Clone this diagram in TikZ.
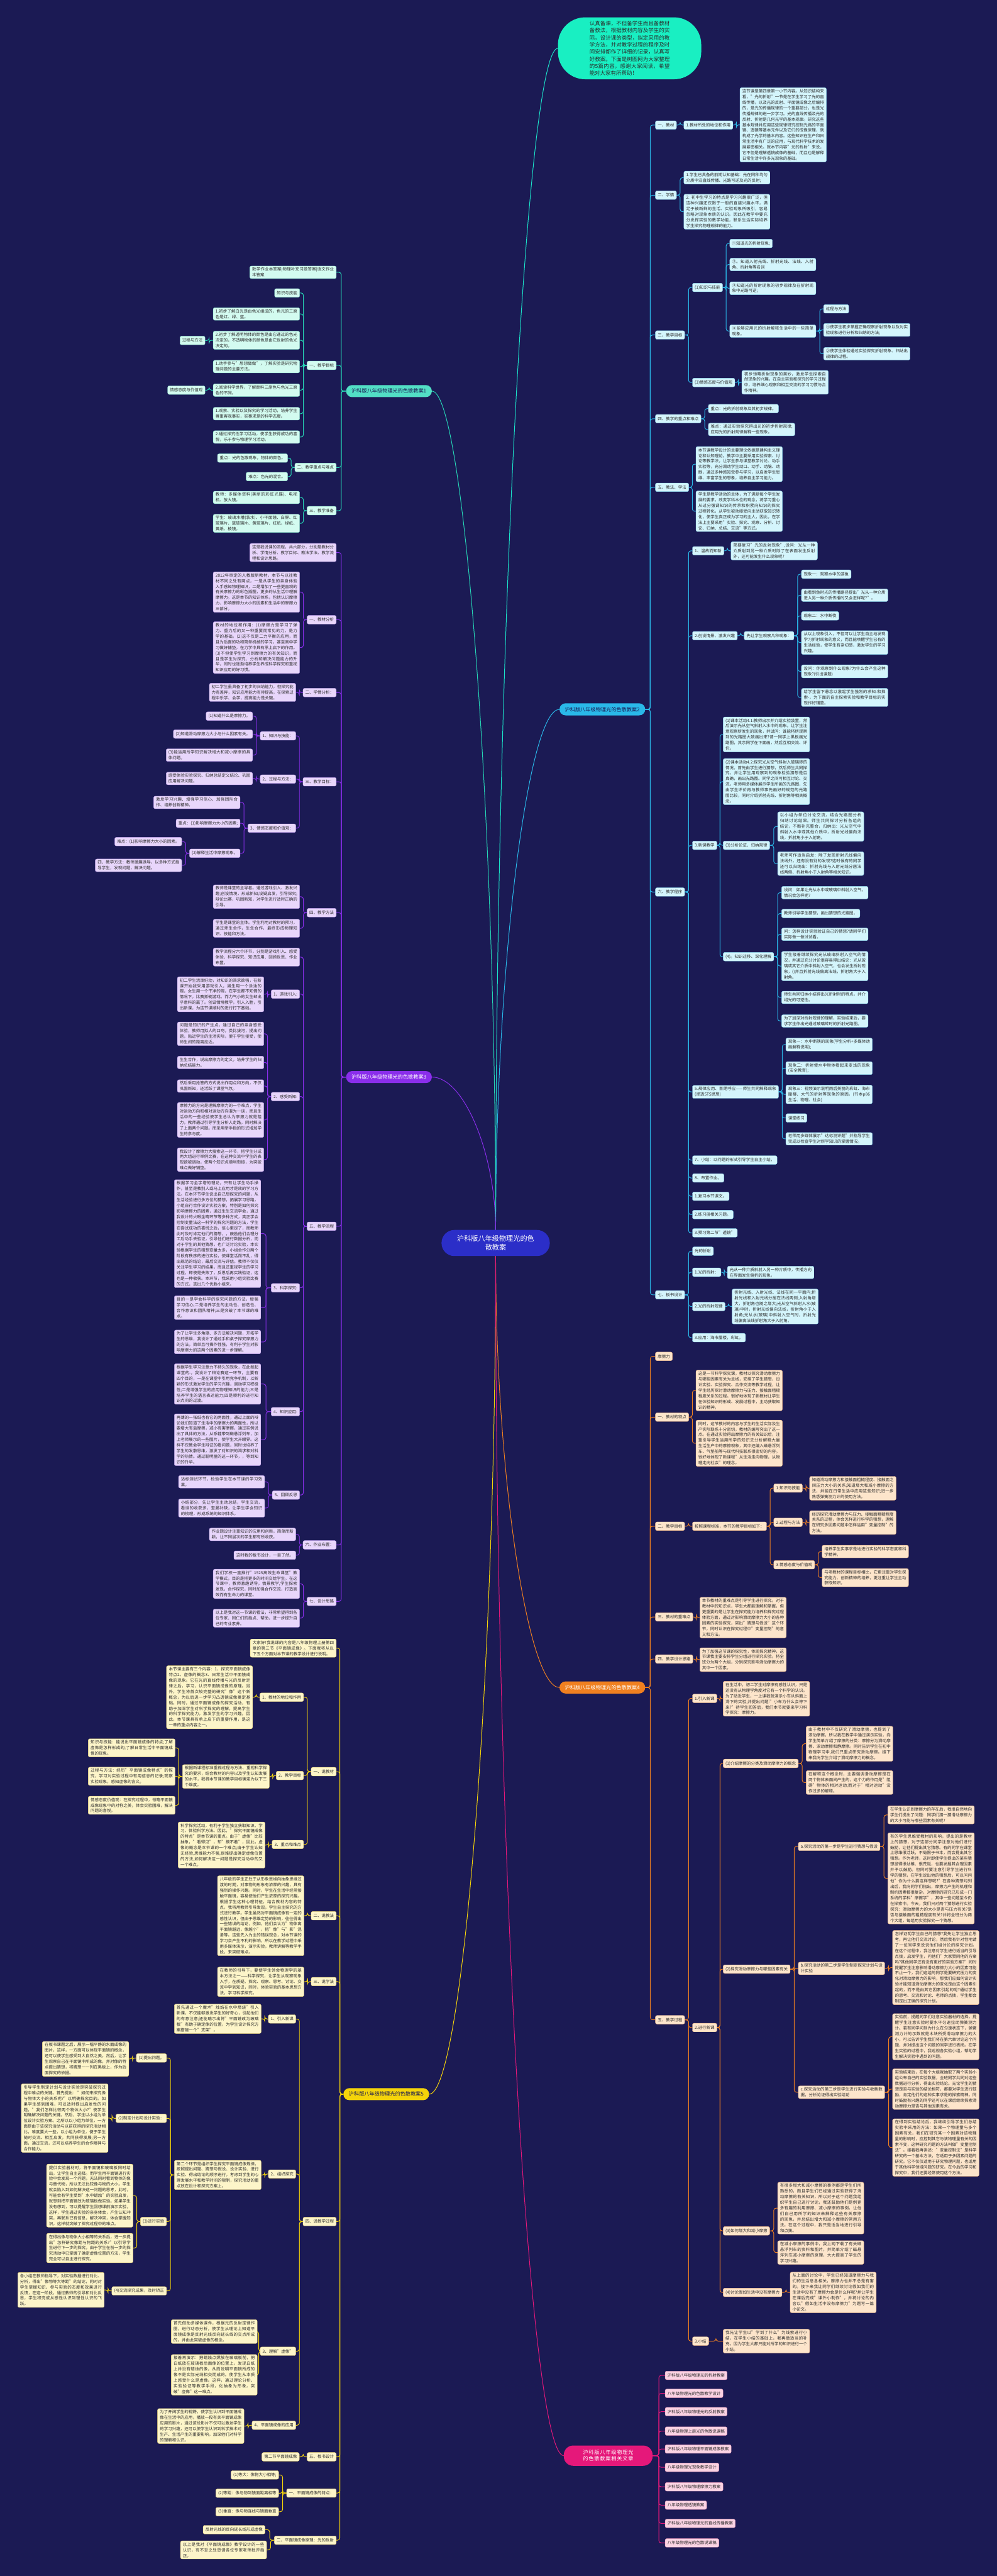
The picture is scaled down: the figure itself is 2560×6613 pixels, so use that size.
\documentclass[tikz,border=0pt]{standalone}
\usepackage{fontspec}
\setmainfont{Noto Sans CJK SC}
\XeTeXlinebreaklocale "zh"
\XeTeXlinebreakskip=0pt plus 1pt
\usetikzlibrary{calc}
\pgfdeclarelayer{bglayer}\pgfdeclarelayer{edgelayer}
\pgfsetlayers{bglayer,edgelayer,main}
\definecolor{bgc}{HTML}{1B1A54}
\definecolor{txc}{HTML}{2B2B2B}
\definecolor{cyF}{HTML}{D4F5FC}\definecolor{cyD}{HTML}{8FD8EE}\definecolor{cyL}{HTML}{2AB8E8}
\definecolor{grF}{HTML}{D3FBF0}\definecolor{grD}{HTML}{8EE8CF}\definecolor{grL}{HTML}{27D6B6}
\definecolor{puF}{HTML}{E8D6FB}\definecolor{puD}{HTML}{BFA0EC}\definecolor{puL}{HTML}{8A2EEB}
\definecolor{orF}{HTML}{FDE5CB}\definecolor{orD}{HTML}{F1B98A}\definecolor{orL}{HTML}{F08020}
\definecolor{yeF}{HTML}{FDF5C9}\definecolor{yeD}{HTML}{EED77A}\definecolor{yeL}{HTML}{F5D40A}
\definecolor{piF}{HTML}{FBD3E3}\definecolor{piD}{HTML}{EE9DBE}\definecolor{piL}{HTML}{E5187A}
\definecolor{rootF}{HTML}{2B2EC8}\definecolor{topF}{HTML}{19EFC2}
\newcommand\fsz{\fontsize{10.5pt}{14.4pt}\selectfont}
\newcommand\boxR[6]{\node[#2,anchor=west,text width=#4pt,align=justify] (#1) at (#3pt,-#5pt) {#6};}
\newcommand\boxL[6]{\node[#2,anchor=east,text width=#4pt,align=justify] (#1) at (#3pt,-#5pt) {#6};}
\newcommand\labR[5]{\node[#2,anchor=west] (#1) at (#3pt,-#4pt) {#5};}
\newcommand\labL[5]{\node[#2,anchor=east] (#1) at (#3pt,-#4pt) {#5};}
\newcommand\eR[2]{\draw[ln] (#1.east) -- ($(#1.east)!0.5!(#1.east -| #2.west)$) |- (#2.west);}
\newcommand\eL[2]{\draw[ln] (#1.west) -- ($(#1.west)!0.5!(#1.west -| #2.east)$) |- (#2.east);}
\tikzset{
 base/.style={rounded corners=4pt, inner xsep=6pt, inner ysep=4pt, font=\fsz, text=txc, minimum height=22pt, line width=0.7pt},
 cl/.style={base, draw=cyD, fill=cyF},
 gl/.style={base, draw=grD, fill=grF},
 pl/.style={base, draw=puD, fill=puF},
 ol/.style={base, draw=orD, fill=orF},
 yl/.style={base, draw=yeD, fill=yeF},
 kl/.style={base, draw=piD, fill=piF},
 bnode/.style={rounded corners=15.5pt, minimum height=31pt, inner xsep=14pt, font=\fontsize{13.2pt}{16pt}\selectfont},
 cv/.style={line width=1.6pt},
}
\begin{document}
\begin{tikzpicture}[x=1pt,y=1pt]
\begin{pgfonlayer}{bglayer}
\fill[bgc] (0,0) rectangle (2560,-6613);
\end{pgfonlayer}
\useasboundingbox (0,0) rectangle (2560,-6613);

% root and top
\node[fill=rootF, text=white, rounded corners=33pt, minimum width=278pt, minimum height=67pt, align=center, font=\fontsize{18pt}{22pt}\selectfont] (root) at (1273,-3191) {沪科版八年级物理光的色\\散教案};
\node[fill=topF, text=txc, rounded corners=70pt, minimum width=368pt, minimum height=159pt, text width=206pt, align=justify, font=\fontsize{13.7pt}{18.3pt}\selectfont] (top) at (1617,-124) {认真备课，不但备学生而且备教材备教法，根据教材内容及学生的实际，设计课的类型，拟定采用的教学方法，并对教学过程的程序及时间安排都作了详细的记录，认真写好教案。下面是树图网为大家整理的5篇内容，感谢大家阅读，希望能对大家有所帮助！};

\node[bnode, fill=grL!80!white, text=bgc] (b1) at (999,-1004) {沪科版八年级物理光的色散教案1};
\node[bnode, fill=cyL, text=bgc] (b2) at (1547,-1821) {沪科版八年级物理光的色散教案2};
\node[bnode, fill=puL, text=white] (b3) at (999,-2765) {沪科版八年级物理光的色散教案3};
\node[bnode, fill=orL, text=white] (b4) at (1547,-4332) {沪科版八年级物理光的色散教案4};
\node[bnode, fill=yeL, text=bgc] (b5) at (992,-5376) {沪科版八年级物理光的色散教案5};
\node[bnode, fill=piL, text=white, rounded corners=24pt, minimum height=52pt, text width=200pt, align=center] (b6) at (1562,-6304) {沪科版八年级物理光的色散教案相关文章};

% ===== B6 pink =====
\labR{k1}{kl}{1708}{6098}{沪科版八年级物理光的折射教案}
\labR{k2}{kl}{1708}{6144}{八年级物理光的色散教学设计}
\labR{k3}{kl}{1708}{6191}{沪科版八年级物理光的反射教案}
\labR{k4}{kl}{1708}{6241}{八年级物理上册光的色散说课稿}
\labR{k5}{kl}{1708}{6287}{沪科版八年级物理平面镜成像教案}
\labR{k6}{kl}{1708}{6334}{八年级物理光现象教学设计}
\labR{k7}{kl}{1708}{6384}{沪科版八年级物理摩擦力教案}
\labR{k8}{kl}{1708}{6431}{八年级物理透镜教案}
\labR{k9}{kl}{1708}{6478}{沪科版八年级物理光的直线传播教案}
\labR{k10}{kl}{1708}{6528}{八年级物理光的色散说课稿}

% ===== B2 cyan =====
\labR{c1}{cl}{1683}{321}{一、教材}
\labR{c11}{cl}{1756}{321}{1.教材所处的地位和作用}
\boxR{c111}{cl}{1900}{210}{320.5}{这节课是第四章第一小节内容。从知识结构来看，"光的折射"一节是在学生学习了光的直线传播，以及光的反射、平面镜成像之后编排的，是光的传播规律的一个重要部分，也是光传播规律的进一步学习。光的直线传播及光的反射、折射是几何光学的基本规律。研究这些基本规律并应用这些规律研究控制光路的平面镜、透镜等基本元件以及它们的成像原理，就构成了光学的基本内容。这些知识在生产和日常生活中有广泛的应用，与现代科学技术的发展紧密相关。就本节内容"光的折射"来说，它不但是理解透镜成像的基础，而且也是解释日常生活中许多光现象的基础。}
\labR{c2}{cl}{1683}{501}{二、学情}
\boxR{c21}{cl}{1756}{209}{456}{1.学生已具备的前期认知基础：光在同种均匀介质中沿直线传播、光路可逆及光的反射;}
\boxR{c22}{cl}{1756}{209}{543.5}{2. 初中生学习的特点是学习兴趣很广泛，但这种兴趣还仅限于一般的直接兴趣水平，满足于被新鲜的生活、实验现象所吸引，容易忽略对现象本质的认识。因此在教学中要充分发挥实验的教学功能，联系生活实际培养学生探究物理规律的能力。}
\labR{c3}{cl}{1683}{860}{三、教学目标}
\labR{c31}{cl}{1778}{738}{(1)知识与技能}
\labR{c311}{cl}{1874}{625}{①知道光的折射现象;}
\boxR{c312}{cl}{1874}{209}{679}{②。知道入射光线、折射光线、法线、入射角、折射角等名词}
\boxR{c313}{cl}{1874}{209}{740}{③知道光的折射现象的初步规律及在折射现象中光路可逆;}
\boxR{c314}{cl}{1874}{209}{850}{④能够应用光的折射解释生活中的一些简单现象。}
\labR{c3141}{cl}{2115}{793}{过程与方法}
\boxR{c3142}{cl}{2115}{210}{847}{①使学生初步掌握正确观察折射现象以及对实验现象进行分析和归纳的方法;}
\boxR{c3143}{cl}{2115}{210}{908}{②使学生体验通过实验探究折射现象、归纳出规律的过程。}
\labR{c32}{cl}{1778}{982}{(3)情感态度与价值观}
\boxR{c321}{cl}{1905}{210}{981.5}{初步领略折射现象的美妙，激发学生探索自然现象的兴趣。在自主实验和探究的学习过程中，培养细心观察和相互交流的学习习惯与合作精神。}
\labR{c4}{cl}{1683}{1075}{四、教学的重点和难点}
\labR{c41}{cl}{1819}{1049}{重点：光的折射现象及其初步规律。}
\boxR{c42}{cl}{1819}{210}{1102.5}{难点：通过实验探究得出光的初步折射规律;应用光的折射规律解释一些现象。}
\labR{c5}{cl}{1683}{1251}{五、教法、学法}
\boxR{c51}{cl}{1787}{210}{1191.5}{本节课教学设计的主要理论依据是建构主义理论和认知理论。教学中主要采用实验探索、讨论等教学法，让学生参与课堂教学讨论、动手实验等，充分调动学生动口、动手、动脑、动眼，通过多种感知觉参与学习，以启发学生思维、丰富学生的想象，培养自主学习能力。}
\boxR{c52}{cl}{1787}{210}{1312.5}{学生是教学活动的主体，为了满足每个学生发展的要求，改变学科本位的观念，将学习重心从过分强调知识的传承和积累向知识的探究过程转化，从学生被动接受向主动获取知识转化，使学生真正成为学习的主人，因此，在学法上主要采用"实验、探究、观察、分析、讨论、归纳、总结、交流"等方式。}
\labR{c6}{cl}{1683}{2290}{六、教学程序}
\labR{c61}{cl}{1778}{1414}{1、温故而知新}
\boxR{c611}{cl}{1877}{210}{1414}{简要复习"光的反射现象",设问：光从一种介质射到另一种介质时除了在表面发生反射外，还可能发生什么现象呢?}
\labR{c62}{cl}{1778}{1632}{2.创设情景、激发兴趣}
\labR{c621}{cl}{1911}{1632}{先让学生观察几种现象：}
\labR{c6211}{cl}{2058}{1474}{现象一：观察水中的游鱼}
\boxR{c6212}{cl}{2058}{210}{1528}{由看到鱼时光的传播路径提出"光从一种介质进入另一种介质传播时又会怎样呢?"。}
\labR{c6213}{cl}{2058}{1581}{现象二：水中断筷}
\boxR{c6214}{cl}{2058}{210}{1649.5}{从以上现象引入，不但可以让学生自主地发现学习折射现象的意义，而且能唤醒学生已有的生活经验，使学生有亲切感，激发学生的学习兴趣。}
\boxR{c6215}{cl}{2058}{210}{1723.5}{设问：你观察到什么现象?为什么会产生这种现象?(引出课题)}
\boxR{c6216}{cl}{2058}{210}{1790.5}{给学生留下悬念以激起学生强烈的求知-和探索-，为下面的自主探索实验和教学目标的实现作好铺垫。}
\labR{c63}{cl}{1778}{2170}{3.新课教学}
\boxR{c631}{cl}{1857}{210}{1885.5}{(1)课本活动4.1:教师出示并介绍实验装置，然后演示光从空气斜射入水中的现象。让学生注意观察所发生的现象，并试问：谁能将所观察到的光路图大致画出来?请一同学上黑板画光路图，其余同学在下面画，然后互相交流、评价。}
\boxR{c632}{cl}{1857}{210}{2006.5}{(2)课本活动4.2:探究光从空气斜射入玻璃砖的情况。首先由学生进行猜想，然后师生共同探究，并让学生用观察到的现象检验猜想是否真确，画出光路图。同学之间可相互讨论、交流。老师用多媒体展示学生所画的光路图，先由学生评价再与教师事先画好的规范的光路图比较，同时介绍折射光线、折射角等相关概念。}
\labR{c633}{cl}{1857}{2170}{(3)分析论证、归纳规律}
\boxR{c6331}{cl}{1997}{209}{2122}{以小组为单位讨论交流，结合光路图分析归纳讨论结果。师生共同探讨分析各组的结论，不断补充整合，归纳出：光从空气中斜射入水中或其他介质中，折射光线偏向法线，折射角小于入射角。}
\boxR{c6332}{cl}{1997}{209}{2217}{老师可作适当启发：除了发现折射光线偏向法线外，还有没有别的发现?这时候有的同学还可以归纳出：折射光线与入射光线分居法线两侧、折射角小于入射角等相关知识。}
\labR{c634}{cl}{1857}{2456}{(4)。知识迁移、深化理解}
\boxR{c6341}{cl}{2007}{210}{2291.5}{设问：如果让光从水中或玻璃中斜射入空气，情况会怎样呢?}
\labR{c6342}{cl}{2007}{2345}{教师引导学生猜想，画出猜想的光路图。}
\boxR{c6343}{cl}{2007}{210}{2398.5}{问：怎样设计实验验证自己的猜想?请同学们实际做一做试试看。}
\boxR{c6344}{cl}{2007}{210}{2480}{学生接着继续探究光从玻璃斜射入空气的情况，并通过充分讨论很容易得出结论：光从玻璃或其它介质中斜射入空气，也会发生折射现象，()并且折射光线偏离法线，折射角大于入射角。}
\boxR{c6345}{cl}{2007}{210}{2560.5}{师生共同归纳小结得出光折射时的特点。并介绍光的可逆性。}
\boxR{c6346}{cl}{2007}{210}{2621}{为了加深对折射规律的理解，实验结束后，要求学生作出光通过玻璃砖时的折射光路图。}
\boxR{c65}{cl}{1778}{209}{2803}{5.规律应用、首尾呼应——师生共同解释现象(渗透STS思想)}
\boxR{c651}{cl}{2018}{210}{2681.5}{现象一：水中断筷的现象(学生分析+多媒体动画解释说明);}
\boxR{c652}{cl}{2018}{210}{2742}{现象二：折射使水中物体看起来变浅的现象(安全教育);}
\boxR{c653}{cl}{2018}{210}{2809.5}{现象三：视频演示说明雨后美丽的彩虹、海市蜃楼、大气的折射等现象的原因。(书本p86生活、物理、社会)}
\labR{c654}{cl}{2018}{2870}{课堂练习}
\boxR{c655}{cl}{2018}{210}{2923.5}{老师用多媒体展示"达标测评题"并指导学生完成以检查学生对所学知识的掌握情况。}
\labR{c67}{cl}{1778}{2978}{7、小结：以问题的形式引导学生自主小结，}
\labR{c68}{cl}{1778}{3024}{8、布置作业。}
\labR{c69}{cl}{1778}{3071}{1.复习本节课文。}
\labR{c6a}{cl}{1778}{3118}{2.练习册相关习题。}
\labR{c6b}{cl}{1778}{3165}{3.预习第二节"透镜"}
\labR{c7}{cl}{1683}{3324}{七、板书设计}
\labR{c71}{cl}{1778}{3212}{光的折射}
\labR{c72}{cl}{1778}{3266}{1.光的折射：}
\boxR{c721}{cl}{1868}{210}{3266.5}{光从一种介质斜射入另一种介质中，传播方向在界面发生偏折的现象。}
\labR{c73}{cl}{1778}{3354}{2.光的折射规律}
\boxR{c731}{cl}{1880}{209}{3354}{折射光线、入射光线、法线在同一平面内;折射光线和入射光线分居在法线两侧;入射角增大，折射角也随之增大;光从空气斜射入水(玻璃)中时，折射光线偏向法线，折射角小于入射角;光从水(玻璃)中斜射入空气时，折射光线偏离法线折射角大于入射角。}
\labR{c74}{cl}{1778}{3434}{3.应用：海市蜃楼，彩虹。}

% ===== B1 green =====
\boxL{g0}{gl}{864}{210}{699}{数学作业本答案|物理补充习题答案|语文作业本答案}
\labL{g1}{gl}{864}{938}{一、教学目标}
\labL{g11}{gl}{770}{752}{知识与技能}
\boxL{g12}{gl}{770}{210}{806}{1.初步了解白光是由色光组成的，色光的三原色是红、绿、蓝。}
\boxL{g13}{gl}{770}{210}{873.5}{2.初步了解透明物体的颜色是由它通过的色光决定的，不透明物体的颜色是由它反射的色光决定的。}
\labL{g131}{gl}{527}{874}{过程与方法}
\boxL{g14}{gl}{770}{210}{941}{1.动手参与"想想做做"，了解实验是研究物理问题的主要方法。}
\boxL{g15}{gl}{770}{210}{1001.5}{2.阅读科学世界，了解颜料三原色与色光三原色的不同。}
\labL{g151}{gl}{527}{1001.5}{情感态度与价值观}
\boxL{g16}{gl}{770}{210}{1062}{1.观察、实验以及探究的学习活动，培养学生尊重客观事实，实事求是的科学态度。}
\boxL{g17}{gl}{770}{210}{1122}{2.通过探究性学习活动，使学生获得成功的喜悦，乐于参与物理学习活动。}
\labL{g2}{gl}{864}{1200}{二、教学重点与难点}
\labL{g21}{gl}{739}{1176}{重点：光的色散现象，物体的颜色。}
\labL{g22}{gl}{739}{1223.5}{难点：色光的混合。}
\labL{g3}{gl}{864}{1311}{三、教学准备}
\boxL{g31}{gl}{770}{210}{1277}{教师：多媒体资料(美丽的彩虹光碟)、电视机、放大镜。}
\boxL{g32}{gl}{770}{210}{1343.5}{学生：玻璃水槽(装水)、小平面镜、白屏、红玻璃片、蓝玻璃片、黄玻璃片、红纸、绿纸、黄纸、棱镜。}

% ===== B3 purple =====
\boxL{p0}{pl}{864}{210}{1418.5}{这是我说课的流程，共六部分，分别是教材分析、学情分析、教学目标、教法学法、教学流程和设计思路。}
\labL{p1}{pl}{864}{1591}{一、教材分析}
\boxL{p11}{pl}{770}{210}{1520}{2012年审定的人教版新教材，本节与以往教材不同之处有两点，一是从学生的亲身体验入手感知物理知识，二是增加了一些更直观的有关摩擦力的彩色插图，更多的从生活中理解摩擦力。这是本节的知识体系，包括认识摩擦力、影响摩擦力大小的因素和生活中的摩擦力三部分。}
\boxL{p12}{pl}{770}{210}{1662.5}{教材的地位和作用：(1)摩擦力是学习了弹力、重力后的又一种重要而常见的力，是力学的基础。(2)这不仅是二力平衡的应用，而且为后面的功和简单机械的学习，甚至高中学习做好铺垫，在力学中具有承上启下的作用。(3)不但使学生学习到摩擦力的有关知识，而且是学生对探究、分析和解决问题能力的升华，同时也逐渐培养学生养成科学探究和重视知识应用的好习惯。}
\labL{p2}{pl}{864}{1778}{二、学情分析：}
\boxL{p21}{pl}{760}{210}{1777.5}{初二学生虽具备了初步的归纳能力，但探究能力有差异，知识应用能力有待提高，在探索过程中乐学、会学，提高能力是关键。}
\labL{p3}{pl}{864}{2007}{三、教学目标：}
\labL{p31}{pl}{760}{1889}{1、知识与技能：}
\labL{p311}{pl}{649}{1838.5}{(1)知道什么是摩擦力。}
\labL{p312}{pl}{649}{1884.5}{(2)知道滑动摩擦力大小与什么因素有关。}
\boxL{p313}{pl}{649}{210}{1938.5}{(3)能运用所学知识解决增大和减小摩擦的具体问题。}
\labL{p32}{pl}{760}{2000}{2、过程与方法：}
\boxL{p321}{pl}{649}{210}{1998.5}{感受体验实验探究、归纳总结定义结论、巩固应用解决问题。}
\labL{p33}{pl}{760}{2126}{3、情感态度和价值观：}
\boxL{p331}{pl}{617}{210}{2060}{激发学习兴趣、增强学习信心、加强团队合作、培养创新精神。}
\labL{p332}{pl}{617}{2113.5}{重点：(1)影响摩擦力大小的因素;}
\labL{p333}{pl}{617}{2190.5}{(2)解释生活中摩擦现象。}
\labL{p3331}{pl}{467}{2160.5}{难点：(1)影响摩擦力大小的因素。}
\boxL{p3332}{pl}{467}{210}{2221.5}{四、教学方法：教师激趣诱导，以多种方式指导学生，发现问题，解决问题。}
\labL{p4}{pl}{864}{2343}{四、教学方法}
\boxL{p41}{pl}{770}{210}{2302}{教师是课堂的主导者。通过游戏引入、激发兴趣;创设情境，形成新知;设疑启发，引导探究;辩论比赛，巩固新知，对学生进行适时正确的引导。}
\boxL{p42}{pl}{770}{210}{2383}{学生是课堂的主体。学生利用对教材的预习，通过师生合作，生生合作，最终形成物理知识、技能和方法。}
\labL{p5}{pl}{864}{3148}{五、教学流程}
\boxL{p50}{pl}{770}{210}{2457}{教学流程分六个环节，分别是游戏引入、感受体验、科学探究、知识应用、回顾反思、作业布置。}
\labL{p51}{pl}{770}{2552}{1、游戏引入:}
\boxL{p511}{pl}{678}{210}{2552.5}{初二学生活泼好动，对知识的渴求欲强，在新课开始我采用游戏引入，男生用一个涂油的碗，女生用一个干净的碗，在学生都不知情的情况下，比赛抓碗游戏。而力气小的女生却出乎意料的赢了。创设情境教学，引人入胜，引出新课，为这节课顺利的进行打下基础。}
\labL{p52}{pl}{770}{2815}{2、感受新知:}
\boxL{p521}{pl}{678}{210}{2654}{问题是知识的产生点，通过自己的亲身感受体验，教师用拟人的口吻，类比拔河，提出问题，贴近学生的生活实际，便于学生接受，使师生间的距离拉近。}
\boxL{p522}{pl}{678}{210}{2727.5}{生生合作，说出摩擦力的定义，培养学生的归纳总结能力。}
\boxL{p523}{pl}{678}{210}{2788}{然后采用抢答的方式说出作用点和方向，不仅巩固新知，还活跃了课堂气氛。}
\boxL{p524}{pl}{678}{210}{2875}{摩擦力的方向是理解摩擦力的一个难点，学生对运动方向和相对运动方向混为一谈，而且生活中的一些经验使学生总认为摩擦力就是阻力，教师通过引导学生分析人走路，同时解决了上面两个问题。而采用举手指的形式增加学生的参与度。}
\boxL{p525}{pl}{678}{210}{2977}{我设计了摩擦力大搜索这一环节，把学生分成两大组进行举例比赛，在这种交流中学生的表现欲被调动，使两个知识点顺利衔接，为突破难点做好铺垫。}
\labL{p53}{pl}{770}{3306}{3、科学探究:}
\boxL{p531}{pl}{670}{210}{3167}{根据学习金字塔的理论，只有让学生动手操作，甚至是教别人或马上应用才是效的学习方法。在本环节学生说出自己想探究的问题，从生活经验进行多方位的猜想，拓展学习思路，小组自行合作设计实验方案，特别是如何探究影响摩擦力的因素，通过生生交流学会，通过我设计的火眼金睛环节等多种方式，真正学会控制变量法这一科学的探究问题的方法，学生在尝试成功的喜悦之后，信心更足了，而教师此时及时肯定他们的猜想，，鼓励他们合理分工后动手去验证，引导他们进行数据分析，而对于学生的其他猜想，也广泛讨论实验，本实验根据学生的猜想变量太多，小组合作分两个阶段有秩序的进行实验，使课堂活而不乱，得出规范的结论，最后交流与评估。教师不仅仅关注学生学习的结果，而且还重视学生的学习过程，即使是失败了，反思后再实践验证，这也是一种收获。本环节，我采用小组实验比赛的方式，选出几个优胜小组来。}
\boxL{p532}{pl}{670}{210}{3357}{目的一是学会科学的探究问题的方法，增强学习信心;二是培养学生的主动性、创造性、合作意识和团队精神;三是突破了本节课的难点。}
\boxL{p533}{pl}{670}{210}{3445}{为了让学生多角度、多方法解决问题，开拓学生的思维，我设计了通过手和桌子探究摩擦力的方法，简单且可操作性强，有利于学生对影响摩擦力的这两个因素的进一步理解。}
\labL{p54}{pl}{770}{3624}{4、知识应用:}
\boxL{p541}{pl}{670}{210}{3553}{根据学生学习注意力不持久的现象，在此掀起课堂的-，我设计了辩论赛这一环节，主要有四个目的，一是在课堂中引用竞争机制，以新颖的形式激发学生的学习兴趣，调动学习积极性;二是增强学生的应用物理知识的能力;三是培养学生的语言表达能力;四是顺利的进行知识点间的过渡。}
\boxL{p542}{pl}{670}{210}{3696}{再薄的一张纸也有它的两面性，通过上面的辩论我们知道了生活中的摩擦力的两面性，所以要增大有益摩擦，减小有害摩擦，通过实例说出了具体的方法，从系鞋带到磁悬浮列车，加上老师展示的一些图片，使学生大开眼界。这样不仅教会学生辩证的看问题，同时也培养了学生的发散思维，激发了对知识的渴求和对科学的热情。通过聪明屋的这一环节，，等到知识的升华。}
\labL{p55}{pl}{770}{3838}{5、回顾反思}
\boxL{p551}{pl}{680}{209}{3804}{达标测试环节，检验学生在本节课的学习效果。}
\boxL{p552}{pl}{680}{209}{3871.5}{小结部分，先让学生主动总结，学生交流，看谁的收获多，查漏补缺，让学生学会知识的梳理，形成系统的知识体系。}
\labL{p6}{pl}{864}{3966}{六、作业布置：}
\boxL{p61}{pl}{760}{210}{3939}{作业题设计注重知识的应用和创新，简单而新颖，让不同层次的学生都有所收获。}
\labL{p62}{pl}{760}{3992.5}{这时我的板书设计，一目了然。}
\labL{p7}{pl}{864}{4111}{七、设计思路}
\boxL{p71}{pl}{770}{210}{4066}{我们学校一直推行"1525高效生命课堂"教学模式，目的是把更多的时间交给学生。在这节课中，教师激趣诱导，情景教学,学生探索发现，合作探究，同时加强合作交流，打造高效而有生命力的课堂。}
\boxL{p72}{pl}{770}{210}{4154}{以上是我对这一节课的看法，非常希望得到各位专家、同仁们的指点、帮助，进一步提升自己的专业素养。}

% ===== B4 orange =====
\labR{o1}{ol}{1683}{3482}{摩擦力}
\labR{o2}{ol}{1683}{3638}{一、教材的特点}
\boxR{o21}{ol}{1787}{210}{3569.5}{这是一节科学探究课，教材以探究滑动摩擦力与哪些因素有关为主线，安排了学生猜想、设计实验、实验探究、合作交流等教学过程，让学生经历探讨滑动摩擦力与压力、接触面粗糙程度关系的过程。很好地体现了新教材让学生在体验知识的形成、发展过程中，主动获取知识的精神。}
\boxR{o22}{ol}{1787}{210}{3705}{同时，这节教材的内容与学生的生活实际及生产实际联系十分密切，教材的编写突出了这一点。在通过实验得出摩擦力的有关知识后，注重引导学生运用所学的知识去分析解释大量生活生产中的摩擦现象，其中还编入磁悬浮列车、气垫船等与现代科技联系很密切的内容。很好地体现了新课程"从生活走向物理，从物理走向社会"的理念。}
\labR{o3}{ol}{1683}{3918}{二、教学目标}
\labR{o31}{ol}{1778}{3918}{按照课程标准，本节的教学目标如下：}
\labR{o311}{ol}{1987}{3820}{1.知识与技能}
\boxR{o3111}{ol}{2079}{210}{3820.5}{知道滑动摩擦力和接触面粗糙程度、接触面之间压力大小的关系;知道增大和减小摩擦的方法，并能在日常生活中应用这些知识;进一步熟悉弹簧测力计的使用方法。}
\labR{o312}{ol}{1987}{3908}{2.过程与方法}
\boxR{o3121}{ol}{2079}{210}{3908.5}{经历探究滑动摩擦力与压力、接触面粗糙程度关系的过程，体会怎样进行科学的猜想，理解在研究多因素问题中怎样运用"变量控制"的方法。}
\labR{o313}{ol}{1987}{4017}{3.情感态度与价值观}
\boxR{o3131}{ol}{2111}{210}{3983}{培养学生实事求是地进行实验的科学态度和科学精神。}
\boxR{o3132}{ol}{2111}{210}{4050}{与老教材的课程目标相比，它更注重对学生探究能力、创新精神的培养，更注重让学生主动获取知识。}
\labR{o4}{ol}{1683}{4151}{三、教材的重难点}
\boxR{o41}{ol}{1797}{210}{4152.5}{本节教材的重难点是引导学生进行探究。对于教材中的知识点，学生大都能理解和掌握，但更重要的是让学生在探究能力培养和探究过程体验方面，通过对影响滑动摩擦力大小的各种因素的实验探究，突出"猜想与假设"这个环节，同时认识在探究过程中"变量控制"的意义和方法。}
\labR{o5}{ol}{1683}{4259}{四、教学设计思路}
\boxR{o51}{ol}{1797}{210}{4260.5}{为了加强这节课的探究性，体现探究精神，这节课我主要安排学生分组进行探究实验。将全班分为两个大组，分别探究影响滑动摩擦力的其中一个因素。}
\labR{o6}{ol}{1683}{5185}{五、教学过程}
\labR{o61}{ol}{1778}{4360}{1.引入新课}
\boxR{o611}{ol}{1857}{210}{4361}{在生活中，初二学生对摩擦有感性认识，只是还没有从物理学角度对它有一个科学的认识。为了贴近学生，一上课我就演示小车从斜面上滑下的实验,并提出问题:"小车为什么会停下来?"待学生回答后，我们本节就要来学习科学探究：摩擦力。}
\labR{o62}{ol}{1778}{5205}{2.进行新课}
\labR{o621}{ol}{1857}{4527}{(1)介绍摩擦的分类及滑动摩擦力的概念}
\boxR{o6211}{ol}{2070}{211}{4476.5}{由于教材中不仅研究了滑动摩擦，也提到了滚动摩擦，所以我在教学中通过演示实验，向学生简单介绍了摩擦的分类：摩擦分为滑动摩擦、滚动摩擦和静摩擦。同时告诉学生在初中物理学习中,我们只重点研究滑动摩擦。接下来我向学生介绍了滑动摩擦力的概念。}
\boxR{o6212}{ol}{2070}{211}{4576}{在解释这个概念时，主要强调滑动摩擦是在两个物体表面间产生的，这个力的作用是"阻碍"物体的相对运动;而对于"相对运动"没作过多的解释。}
\labR{o622}{ol}{1857}{5055}{(2)探究滑动摩擦力与哪些因素有关}
\labR{o6221}{ol}{2050}{4740}{a.探究活动的第一步是学生进行猜想与假设}
\boxR{o62211}{ol}{2280}{210}{4659}{在学生认识到摩擦力的存在后，我很自然地向学生们提出了问题：同学们猜一猜滑动摩擦力的大小可能与哪些因素有关呢?}
\boxR{o62212}{ol}{2280}{210}{4822}{有的学生思维受教材的影响，提出的是教材上的猜想，对于这部分同学注意对他们进行鼓励，让他们提出其它猜想。有的同学在课堂上思维很活跃，不局限于书本，而会提出其它猜想。作为老师，这时即使学生提出的某些猜想显得很幼稚、很荒诞，也要发掘其合理因素并予以鼓励。但同时要注意引导学生进行科学的猜想，在学生说出他的猜想后，可以问问他"你为什么要这样想呢?"在各种猜想均列出后，我向同学们指出，摩擦力产生的机理和制约因素都很复杂，对摩擦的研究已形成一门系统的学科"摩擦学"，其中一些问题至今仍在探索中。今天，我们只对两个猜想进行实验探究：滑动摩擦力的大小是否与压力有关?是否与接触面的粗糙程度有关?并将全班分为两个大组，每组用实验探究一个猜想。}
\boxR{o6222}{ol}{2050}{210}{5053}{b.探究活动的第二步是学生制定探究计划与设计实验}
\boxR{o62221}{ol}{2292}{210}{5051}{怎样证明学生自己的猜想?我先让学生独立思考，再让他们交流讨论，然后我有针对性地请了一位同学来说说他们组讨论的探究计划。在这个过程中，我注意对学生进行适当的引导点拨，启发学生，问他们"大家赞同他的方案吗?其他同学还有没有更好的实验方案?"同时提醒学生注意影响滑动摩擦力大小的因素可能不止一个，我们这组的同学是要研究压力的变化对滑动摩擦力的影响，那我们应如何设计实验才能知道滑动摩擦力的变化是由这个因素引起的，而不是由其它因素引起的呢?通过学生的思考、交流和讨论、老师的点拨，学生都会制定出正确的探究计划。}
\boxR{o6223}{ol}{2050}{210}{5371}{c.探究活动的第三步是学生进行实验与收集数据，分析论证得出实验结论}
\boxR{o62231}{ol}{2292}{210}{5228.5}{实验前，提醒同学们注意实验器材的选择，提醒学生注意实验时要水平匀速拉动弹簧测力计。若有同学问到为什么在匀速状态下，弹簧测力计的示数就是木块所受滑动摩擦力的大小，可以告诉学生我们将在第六章讨论这个问题，并对提出这个问题的同学进行表扬。在学生实验的过程中，我巡视各实验小组，帮助学生解决实验中遇到的问题。}
\boxR{o62232}{ol}{2292}{210}{5363}{实验结束后，在每个大组我抽取了两个实验小组公布自己的实验数据，全班同学共同对这些数据进行分析，得出实验结论。无论学生的猜想是否与实验的结论相符，都要对学生进行鼓励，肯定他们的这种实事求是的探索精神。同时鼓励有兴趣的同学还可以在课后继续探索滑动摩擦力是否与其他因素有关。}
\boxR{o62233}{ol}{2292}{210}{5513}{在得到实验结论后，我继续引导学生们总结实验中采用的方法：如果一个物理量与多个因素有关，我们在研究某一个因素对该物理量的影响时，应控制其它与该物理量有关的因素不变，这种研究问题的方法叫做"变量控制法"。接着我再讲述："变量控制法"是科学研究的一个基本方法，它适用于多因素问题的研究。它不仅仅适用于研究物理问题，也适用于其他科学领域问题的研究。在今后的学习和探究中，我们还要经常使用这个方法。}
\labR{o623}{ol}{1857}{5727}{(3)如何增大和减小摩擦}
\boxR{o6231}{ol}{1997}{209}{5668.5}{有很多增大和减小摩擦的事例都是学生们所熟悉的，而且学生们已经通过实验获得了滑动摩擦的有关知识，所以对于这个问题我组织学生自己进行讨论，我还鼓励他们是例更多有趣的利用摩擦、减小摩擦的事例。让他们自己用所学的知识来解释这些有关摩擦的现象，并总结出增大和减小摩擦的常用方法。在这个过程中，我只是适当地进行引导和点拨。}
\boxR{o6232}{ol}{1997}{209}{5782.5}{在减小摩擦的事例中，我上网下载了有关磁悬浮列车的资料和图片，并简单介绍了磁悬浮列车减小摩擦的原理，大大提高了学生的学习兴趣。}
\labR{o624}{ol}{1857}{5885}{(4)讨论假如生活中没有摩擦力}
\boxR{o6241}{ol}{2029}{209}{5885}{从上面的讨论中，学生已经知道摩擦力与我们的生活息息相关，摩擦力也并不总是有害的。接下来我让同学们继续讨论假如我们的生活中没有了摩擦力会是什么样呢?并让学生在课后完成"课外小制作"，并将讨论的内容以"假如生活中没有摩擦力"为题写一篇小论文。}
\labR{o63}{ol}{1778}{6010}{3.小结}
\boxR{o631}{ol}{1857}{210}{6010}{我先让学生以"学到了什么"为线索进行小结，在学生小结的基础上，我再做适当的补充。因为学生大都只能对所学的知识进行一个小结。}

% ===== B5 yellow =====
\boxL{y0}{yl}{864}{209}{4231}{大家好!我说课的内容是八年级物理上册第四章的第三节《平面镜成像》。下面我将从以下五个方面对本节课的教学设计进行说明。}
\labL{y1}{yl}{864}{4548}{一、说教材}
\labL{y11}{yl}{780}{4357}{1、教材的地位和作用}
\boxL{y111}{yl}{649}{209}{4357}{本节课主要有三个内容：1、探究平面镜成像特点2、虚像的概念3、日常生活中平面镜成像的现象。它在光的直线传播与光的反射定律之后，学习，认识平面镜成像的原理。另外，学生将首次较完整的研究"像"这个新概念，为以后进一步学习凸透镜成像奠定基础。同时，通过平面镜成像的探究活动，有助于加深学生对科学探究的理解，提高学生的科学探究能力，激发学生的学习兴趣。因此，本节课具有承上启下的重要作用，是这一章的重点内容之一。}
\labL{y12}{yl}{780}{4558}{2、教学目标}
\boxL{y121}{yl}{692}{211}{4560.5}{根据新课程标准重视过程与方法、重视科学探究的要求，结合教材的内容以及学生认知发展的水平，我将本节课的教学目标确定为以下三个维度。}
\boxL{y1211}{yl}{450}{211}{4487}{知识与技能：能说出平面镜成像的特点;了解虚像是怎样形成的;了解日常生活中平面镜成像的现象。}
\boxL{y1212}{yl}{450}{211}{4560}{过程与方法：经历"平面镜成像特点"的探究，学习对实验过程中有用信息的记录;观察实验现象，感知虚像的含义。}
\boxL{y1213}{yl}{450}{211}{4634.5}{情感态度价值观：在探究过程中，领略平面镜成像现象中的对称之美，体会实验困难，解决问题的喜悦。}
\labL{y13}{yl}{780}{4735}{3、重点和难点}
\boxL{y131}{yl}{681}{211}{4736.5}{科学探究活动，有利于学生独立获取知识、学习、体验科学方法。因此，"探究平面镜成像的特点"是本节课的重点。由于"虚像"比较抽象，"看得见"，却"摸不着"，因此，虚像的概念是本节课的一个难点;由于学生认知无经验,思维能力不强,很难提出确定虚像位置的方法,如何解决这一问题是探究活动中的又一个难点。}
\labL{y2}{yl}{864}{4918}{二、说教法}
\boxL{y21}{yl}{781}{210}{4918}{八年级的学生正处于从形象思维向抽象思维过渡的时期，对事物的形象有浓厚的兴趣，具有强烈的操作兴趣。同时，学生在生活中经常接触平面镜，容易使他们产生浓厚的探究兴趣。根据学生这种心理特征，结合教材内容的特点，我将用教师引导发现，学生自主探究的方式进行教学。学生虽然对平面镜成像有一定的感性认识，但由于思维定势的影响，往往得出一些错误的结论，例如，他们会认为"物体离平面镜越远，像越小"，把"像"与"影"混淆等。这些先入为主的错误观念，对本节课的学习会产生不利的影响，所以在教学过程中采用多媒体演示，演示实验，教师讲解等教学手段，来突破难点。}
\labL{y3}{yl}{864}{5087}{三、说学法}
\boxL{y31}{yl}{781}{210}{5087.5}{在教师的引导下，要使学生领会物理学的基本方法之一——科学探究，让学生从观察现象入手，在质疑、探究、观察、思考、讨论、交流中学到知识，同时，体验实验的基本思想方法，学习科学探究。}
\labL{y4}{yl}{864}{5703}{四、说教学过程}
\labL{y41}{yl}{760}{5183}{1、引入新课}
\boxL{y411}{yl}{671}{211}{5182.5}{首先通过一个魔术"烛焰在水中燃烧"引入新课，不仅能够激发学生的好奇心，引起他们的有意注意;还能暗示出将"平面镜改为玻璃板"有助于确定像的位置，为学生设计探究方案搭建一个"支架"。}
\labL{y42}{yl}{760}{5581}{2、组织探究}
\boxL{y421}{yl}{671}{211}{5583.5}{第二个环节是组织学生探究平面镜成像规律。按照提出问题、猜想与假设、设计实验、进行实验、得出结论的顺序进行，考虑到学生的心理发展水平和教学时间的限制，探究活动的重点放在设计和探究方案上。}
\labL{y4211}{yl}{428}{5283}{(1)提出问题。}
\boxL{y42111}{yl}{331}{210}{5285.5}{在板书课题之后，展示一幅平静的水面成像的图片，这样，一方面可以体现平面镜的概念，还可以使学生感受到大自然之美。然后，让学生观察自己在平面镜中所成的像，并对像的特点提出猜想，将猜想一一列在黑板上，作为后面探究的依据。}
\labL{y4212}{yl}{428}{5438}{(2)制定计划与设计实验：}
\boxL{y42121}{yl}{278}{211}{5437.5}{引导学生制定计划与设计实验是突破探究过程中难点的关键。首先提出："如何来探究像与物体大小的关系呢?"以明确探究目的。如果学生感到困难，可以适时提出启发性的问题，"我们怎样比较两个物体大小?"使学生明确解决问题的关键。然后，学生以小组为单位设计实验方案。之所以以小组为单位，一方面是由于该探究活动与以前获得的探究活动相比，难度要大一些，以小组为单位，便于学生随时交流、相互启发，共同获得发展;另一方面，通过交流，还可以培养学生的合作精神与合作能力。}
\labL{y4213}{yl}{428}{5703}{(3)进行实验}
\boxL{y42131}{yl}{342}{210}{5636.5}{提供实验器材时，将平面镜和玻璃板同时给出，让学生自主选择。而学生用平面镜进行实验中会发现一个问题，无法同时看到物体的像与替代物，所以无法比较像与物的大小。学生就会陷入到如何解决这一问题的思考，此时，可能会有学生受到"水中蜡烛"的实验启发，就想到把平面镜改为玻璃板做实验。如果学生没有想到，可以提醒学生回想课前演示实验，这样，学生通过实验的亲身体会，产生认知冲突，再联系已有信息，解决冲突，体会掌握知识。这样就突破了探究过程中的难点。}
\boxL{y42132}{yl}{342}{210}{5771}{在得出像与物体大小相等的关系后，进一步提出"怎样研究像距与物距的关系?"以引导学生进行下一步的探究，由于学生在前一步的探究活动中已掌握了确定虚像位置的方法，学生完全可以自主进行探究。}
\labL{y4214}{yl}{428}{5881}{(4)交流探究成果，及时矫正}
\boxL{y42141}{yl}{268}{210}{5878.5}{各小组在教师指导下，对实验数据进行对比、分析，得出"像物等大等距"的结论，同时对学生掌握知识、参与实验的态度和效果进行反馈，在这一阶段，通过教师的引导和对比反思，学生将完成从感性认识到理性认识的飞跃。}
\labL{y43}{yl}{760}{6036}{3、理解"虚像"}
\boxL{y431}{yl}{661}{209}{5985.5}{首先借助多媒体课件，根据光的反射定律作图，进行动态分析，使学生从理论上知道平面镜成像是反射光线反向延长线的交点所成的。并由此突破虚像的概念。}
\boxL{y432}{yl}{661}{209}{6096.5}{接着再演示：把蜡烛点燃放在玻璃板前，把白纸放在玻璃板后面像的位置上，发现白纸上并没有蜡烛的像，从而说明平面镜所成的像不是实际光线相交而成的。使学生从本质上感受什么是虚像。这样，通过理论分析、实验验证等教学手段，化抽象为形象，突破"虚像"这一难点。}
\labL{y44}{yl}{760}{6226}{4、平面镜成像的应用}
\boxL{y441}{yl}{627}{210}{6228}{为了开阔学生的视野，使学生认识到平面镜成像在生活中的应用，播放一段有关平面镜成像应用的影片，通过该段影片不仅可以激发学生的学习兴趣，还可以使学生认识到科学技术对生产、生活产生的重要影响，加深他们对科学的理解和认识。}
\labL{y5}{yl}{864}{6307}{五、板书设计}
\labL{y51}{yl}{769}{6307}{第二节平面镜成像}
\labL{y6}{yl}{864}{6400}{一、平面镜成像的特点：}
\labL{y61}{yl}{716}{6353.5}{(1)等大：像物大小相等;}
\labL{y62}{yl}{716}{6400.5}{(2)等距：像与物到镜面距离相等}
\labL{y63}{yl}{716}{6448}{(3)垂直：像与物连线与镜面垂直}
\labL{y7}{yl}{864}{6521}{二、平面镜成像原理：光的反射}
\labL{y71}{yl}{681}{6494}{反射光线的反向延长线形成虚像}
\boxL{y72}{yl}{685}{209}{6546}{以上是我对《平面镜成像》教学设计的一些认识，有不妥之处恳请各位专家老师批评指正。}

% ===== edges =====
\begin{pgfonlayer}{edgelayer}
% main curves
\draw[cv, draw=topF!80!cyL] (root.north) .. controls ($(root.north)!0.5!(root.north |- top.west)$) and ($(top.west)!0.5!(root.north |- top.west)$) .. (top.west);
\draw[cv, draw=cyL] (root.north) .. controls ($(root.north)!0.5!(root.north |- b2.west)$) and ($(b2.west)!0.5!(root.north |- b2.west)$) .. (b2.west);
\draw[cv, draw=grL] (root.north) .. controls ($(root.north)!0.5!(root.north |- b1.east)$) and ($(b1.east)!0.5!(root.north |- b1.east)$) .. (b1.east);
\draw[cv, draw=puL] (root.north) .. controls ($(root.north)!0.5!(root.north |- b3.east)$) and ($(b3.east)!0.5!(root.north |- b3.east)$) .. (b3.east);
\draw[cv, draw=orL] (root.south) .. controls ($(root.south)!0.5!(root.south |- b4.west)$) and ($(b4.west)!0.5!(root.south |- b4.west)$) .. (b4.west);
\draw[cv, draw=yeL] (root.south) .. controls ($(root.south)!0.5!(root.south |- b5.east)$) and ($(b5.east)!0.5!(root.south |- b5.east)$) .. (b5.east);
\draw[cv, draw=piL] (root.south) .. controls ($(root.south)!0.5!(root.south |- b6.west)$) and ($(b6.west)!0.5!(root.south |- b6.west)$) .. (b6.west);
% pink
\begin{scope}[ln/.style={draw=piL, line width=1.6pt, rounded corners=6pt}]
\foreach \c in {k1,k2,k3,k4,k5,k6,k7,k8,k9,k10} {\eR{b6}{\c}}
\end{scope}
% cyan
\begin{scope}[ln/.style={draw=cyL, line width=1.6pt, rounded corners=6pt}]
\foreach \c in {c1,c2,c3,c4,c5,c6,c7} {\eR{b2}{\c}}
\eR{c1}{c11}\eR{c11}{c111}
\foreach \c in {c21,c22} {\eR{c2}{\c}}
\foreach \c in {c31,c32} {\eR{c3}{\c}}
\foreach \c in {c311,c312,c313,c314} {\eR{c31}{\c}}
\foreach \c in {c3141,c3142,c3143} {\eR{c314}{\c}}
\eR{c32}{c321}
\foreach \c in {c41,c42} {\eR{c4}{\c}}
\foreach \c in {c51,c52} {\eR{c5}{\c}}
\foreach \c in {c61,c62,c63,c65,c67,c68,c69,c6a,c6b} {\eR{c6}{\c}}
\eR{c61}{c611}\eR{c62}{c621}
\foreach \c in {c6211,c6212,c6213,c6214,c6215,c6216} {\eR{c621}{\c}}
\foreach \c in {c631,c632,c633,c634} {\eR{c63}{\c}}
\foreach \c in {c6331,c6332} {\eR{c633}{\c}}
\foreach \c in {c6341,c6342,c6343,c6344,c6345,c6346} {\eR{c634}{\c}}
\foreach \c in {c651,c652,c653,c654,c655} {\eR{c65}{\c}}
\foreach \c in {c71,c72,c73,c74} {\eR{c7}{\c}}
\eR{c72}{c721}\eR{c73}{c731}
\end{scope}
% green
\begin{scope}[ln/.style={draw=grL, line width=1.6pt, rounded corners=6pt}]
\foreach \c in {g0,g1,g2,g3} {\eL{b1}{\c}}
\foreach \c in {g11,g12,g13,g14,g15,g16,g17} {\eL{g1}{\c}}
\eL{g13}{g131}\eL{g15}{g151}
\foreach \c in {g21,g22} {\eL{g2}{\c}}
\foreach \c in {g31,g32} {\eL{g3}{\c}}
\end{scope}
% purple
\begin{scope}[ln/.style={draw=puL, line width=1.6pt, rounded corners=6pt}]
\foreach \c in {p0,p1,p2,p3,p4,p5,p6,p7} {\eL{b3}{\c}}
\foreach \c in {p11,p12} {\eL{p1}{\c}}
\eL{p2}{p21}
\foreach \c in {p31,p32,p33} {\eL{p3}{\c}}
\foreach \c in {p311,p312,p313} {\eL{p31}{\c}}
\eL{p32}{p321}
\foreach \c in {p331,p332,p333} {\eL{p33}{\c}}
\foreach \c in {p3331,p3332} {\eL{p333}{\c}}
\foreach \c in {p41,p42} {\eL{p4}{\c}}
\foreach \c in {p50,p51,p52,p53,p54,p55} {\eL{p5}{\c}}
\eL{p51}{p511}
\foreach \c in {p521,p522,p523,p524,p525} {\eL{p52}{\c}}
\foreach \c in {p531,p532,p533} {\eL{p53}{\c}}
\foreach \c in {p541,p542} {\eL{p54}{\c}}
\foreach \c in {p551,p552} {\eL{p55}{\c}}
\foreach \c in {p61,p62} {\eL{p6}{\c}}
\foreach \c in {p71,p72} {\eL{p7}{\c}}
\end{scope}
% orange
\begin{scope}[ln/.style={draw=orL, line width=1.6pt, rounded corners=6pt}]
\foreach \c in {o1,o2,o3,o4,o5,o6} {\eR{b4}{\c}}
\foreach \c in {o21,o22} {\eR{o2}{\c}}
\eR{o3}{o31}
\foreach \c in {o311,o312,o313} {\eR{o31}{\c}}
\eR{o311}{o3111}\eR{o312}{o3121}
\foreach \c in {o3131,o3132} {\eR{o313}{\c}}
\eR{o4}{o41}\eR{o5}{o51}
\foreach \c in {o61,o62,o63} {\eR{o6}{\c}}
\eR{o61}{o611}\eR{o63}{o631}
\foreach \c in {o621,o622,o623,o624} {\eR{o62}{\c}}
\foreach \c in {o6211,o6212} {\eR{o621}{\c}}
\foreach \c in {o6221,o6222,o6223} {\eR{o622}{\c}}
\foreach \c in {o62211,o62212} {\eR{o6221}{\c}}
\eR{o6222}{o62221}
\foreach \c in {o62231,o62232,o62233} {\eR{o6223}{\c}}
\foreach \c in {o6231,o6232} {\eR{o623}{\c}}
\eR{o624}{o6241}
\end{scope}
% yellow
\begin{scope}[ln/.style={draw=yeL, line width=1.6pt, rounded corners=6pt}]
\foreach \c in {y0,y1,y2,y3,y4,y5,y6,y7} {\eL{b5}{\c}}
\foreach \c in {y11,y12,y13} {\eL{y1}{\c}}
\eL{y11}{y111}\eL{y12}{y121}
\foreach \c in {y1211,y1212,y1213} {\eL{y121}{\c}}
\eL{y13}{y131}\eL{y2}{y21}\eL{y3}{y31}
\foreach \c in {y41,y42,y43,y44} {\eL{y4}{\c}}
\eL{y41}{y411}\eL{y42}{y421}
\foreach \c in {y4211,y4212,y4213,y4214} {\eL{y421}{\c}}
\eL{y4211}{y42111}\eL{y4212}{y42121}
\foreach \c in {y42131,y42132} {\eL{y4213}{\c}}
\eL{y4214}{y42141}
\foreach \c in {y431,y432} {\eL{y43}{\c}}
\eL{y44}{y441}\eL{y5}{y51}
\foreach \c in {y61,y62,y63} {\eL{y6}{\c}}
\foreach \c in {y71,y72} {\eL{y7}{\c}}
\end{scope}
\end{pgfonlayer}
\end{tikzpicture}
\end{document}
